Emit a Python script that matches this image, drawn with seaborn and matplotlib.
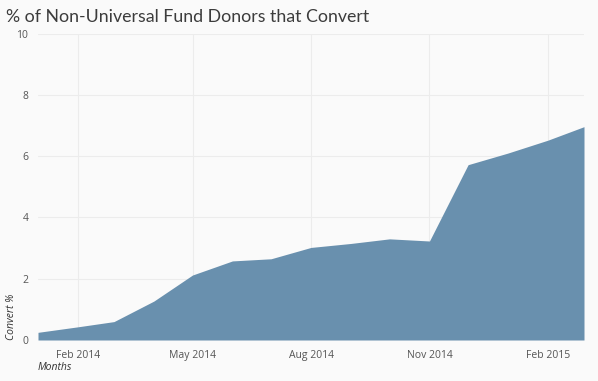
import numpy as np
import pandas as pd
import matplotlib.pyplot as plt
import matplotlib.dates as mdates
import seaborn as sns

# Datos (porcentaje de conversion mensual)
months = pd.date_range('2014-01-01', '2015-03-01', freq='MS')
convert_pct = [0.25, 0.43, 0.6, 1.27, 2.12, 2.58, 2.65, 3.02, 3.15, 3.3, 3.23, 5.72, 6.1, 6.52, 6.96]
tick_months = ['2014-02-01', '2014-05-01', '2014-08-01', '2014-11-01', '2015-02-01']
y_ticks = [0, 2, 4, 6, 8, 10]

df = pd.DataFrame({'Month': months, 'Convert': convert_pct})

sns.set_style('whitegrid')
plt.rcParams['font.family'] = ['Open Sans', 'DejaVu Sans']

fig = plt.figure(figsize=(5.98, 3.81), dpi=100)
fig.patch.set_facecolor('#fafafa')
ax = fig.add_axes([38 / 598, 41 / 381, 546 / 598, 306.5 / 381])
ax.set_facecolor('#fafafa')

sns.lineplot(data=df, x='Month', y='Convert', ax=ax, color='#6990ae', linewidth=0)
ax.fill_between(df['Month'], df['Convert'], 0, color='#6990ae', linewidth=0, zorder=2)

ax.set_xlim(months[0], months[-1])
ax.set_ylim(0, 10)
ax.set_yticks(y_ticks)
ax.set_xticks(pd.to_datetime(tick_months))
ax.xaxis.set_major_formatter(mdates.DateFormatter('%b %Y'))

ax.grid(True, color='#ececec', linewidth=0.8)
for s in ax.spines.values():
    s.set_visible(False)
ax.tick_params(axis='both', length=0, labelsize=7.5, labelcolor='#555555')
ax.tick_params(axis='x', pad=7)
ax.tick_params(axis='y', pad=7)

ax.set_xlabel('')
ax.set_ylabel('')
fig.text(6 / 598, 1 - 17 / 381, '% of Non-Universal Fund Donors that Convert',
         fontsize=12.8, color='#3c3c3c', va='center', ha='left',
         family=['Lato', 'DejaVu Sans'])
fig.text(38 / 598, 1 - 367 / 381, 'Months', fontsize=7.5, style='italic',
         color='#333333', va='center', ha='left')
fig.text(12 / 598, 1 - 340 / 381, 'Convert %', fontsize=7.5, style='italic',
         color='#333333', rotation=90, va='bottom', ha='center')

fig.savefig('out.png', dpi=100, facecolor=fig.get_facecolor())
